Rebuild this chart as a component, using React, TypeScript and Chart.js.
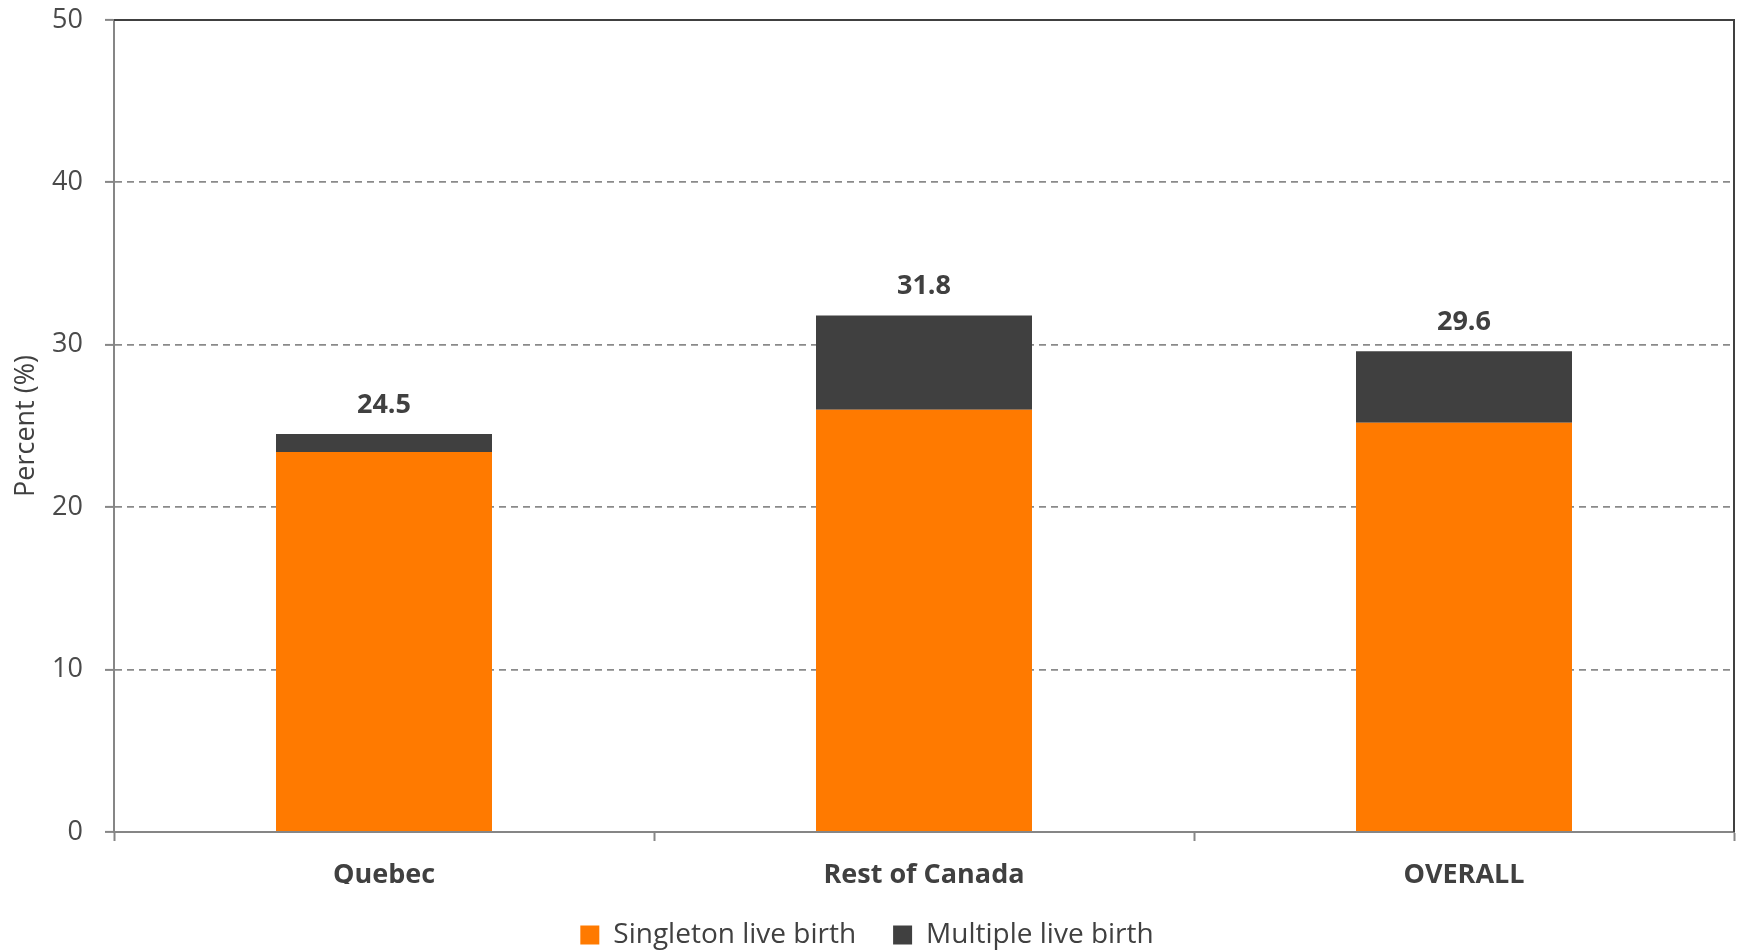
import React, { useEffect, useRef } from "react";
import { Chart, registerables } from "chart.js";

Chart.register(...registerables);

const categories = ["Quebec", "Rest of Canada", "OVERALL"];
const singletonValues = [23.4, 26.0, 25.2];
const multipleValues = [1.1, 5.8, 4.4];
const totalLabels = ["24.5", "31.8", "29.6"];
const seriesNames = ["Singleton live birth", "Multiple live birth"];
const yAxisTitle = "Percent (%)";

const FONT = "'Open Sans', 'DejaVu Sans', sans-serif";
const ORANGE = "#FF7A00";
const DARK = "#404040";
const GRID = "#8a8a8a";
const AXIS = "#868686";

const totalsPlugin = {
  id: "totalsPlugin",
  afterDatasetsDraw(chart: any) {
    const ctx = chart.ctx;
    const lastIndex = chart.data.datasets.length - 1;
    const meta = chart.getDatasetMeta(lastIndex);
    ctx.save();
    ctx.font = `bold 27px ${FONT}`;
    ctx.fillStyle = DARK;
    ctx.textAlign = "center";
    ctx.textBaseline = "middle";
    meta.data.forEach((bar: any, i: number) => {
      ctx.fillText(totalLabels[i], bar.x, bar.y - 29);
    });
    ctx.restore();
  },
};

const framePlugin = {
  id: "framePlugin",
  afterDraw(chart: any) {
    const { ctx, chartArea } = chart;
    ctx.save();
    ctx.strokeStyle = DARK;
    ctx.lineWidth = 2;
    ctx.beginPath();
    ctx.moveTo(chartArea.left, chartArea.top);
    ctx.lineTo(chartArea.right, chartArea.top);
    ctx.lineTo(chartArea.right, chartArea.bottom);
    ctx.stroke();
    ctx.restore();
  },
};

export default function App() {
  const canvasRef = useRef<HTMLCanvasElement | null>(null);

  useEffect(() => {
    document.body.style.margin = "0";
    const canvas = canvasRef.current;
    if (!canvas) return;
    const chart = new Chart(canvas, {
      type: "bar",
      data: {
        labels: categories,
        datasets: [
          {
            label: seriesNames[0],
            data: singletonValues,
            backgroundColor: ORANGE,
            borderWidth: 0,
            categoryPercentage: 1,
            barPercentage: 0.4,
          },
          {
            label: seriesNames[1],
            data: multipleValues,
            backgroundColor: DARK,
            borderWidth: 0,
            categoryPercentage: 1,
            barPercentage: 0.4,
          },
        ],
      },
      options: {
        animation: false,
        responsive: false,
        devicePixelRatio: 1,
        layout: { padding: { top: 20, right: 5, left: 0, bottom: -9 } },
        plugins: {
          legend: {
            position: "bottom",
            labels: {
              font: { family: FONT, size: 28 },
              color: DARK,
              boxWidth: 19,
              boxHeight: 19,
              padding: 37,
            },
          },
          tooltip: { enabled: false },
        },
        scales: {
          x: {
            stacked: true,
            grid: {
              display: true,
              offset: true,
              drawOnChartArea: false,
              drawTicks: true,
              tickLength: 9,
              tickColor: AXIS,
              tickWidth: 2,
            },
            border: { display: true, color: AXIS, width: 2 },
            ticks: {
              font: { family: FONT, size: 27, weight: "bold" },
              color: DARK,
              padding: 18,
            },
            afterFit(scale: any) {
              scale.height = 52;
              scale.paddingLeft = 0;
              scale.paddingRight = 0;
            },
          },
          y: {
            stacked: true,
            min: 0,
            max: 50,
            ticks: {
              stepSize: 10,
              font: { family: FONT, size: 27 },
              color: "#4a4a4a",
              padding: 22,
            },
            grid: {
              color: (c: any) =>
                c.tick && (c.tick.value === 0 || c.tick.value === 50) ? "rgba(0,0,0,0)" : GRID,
              lineWidth: 1.8,
              drawTicks: true,
              tickLength: 9,
              tickColor: AXIS,
              tickWidth: 2,
              tickBorderDash: [],
            },
            border: { display: true, color: AXIS, width: 2, dash: [7, 5] },
            title: {
              display: true,
              text: yAxisTitle,
              font: { family: FONT, size: 27 },
              color: DARK,
              padding: { top: 10, bottom: 0 },
            },
            afterFit(scale: any) {
              scale.width = 114;
              scale.paddingTop = 0;
              scale.paddingBottom = 0;
            },
          },
        },
      },
      plugins: [totalsPlugin, framePlugin],
    });
    return () => chart.destroy();
  }, []);

  return (
    <div style={{ width: 1739, height: 950 }}>
      <canvas ref={canvasRef} width={1739} height={950} style={{ display: "block" }} />
    </div>
  );
}
